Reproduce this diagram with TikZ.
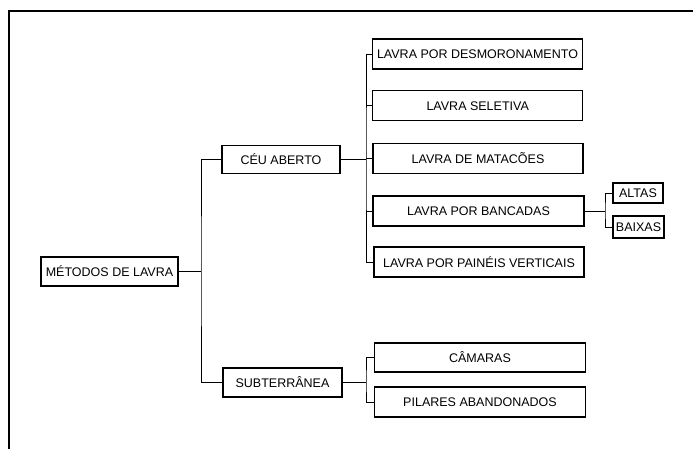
\documentclass[tikz,border=0pt]{standalone}
\usepackage{fontspec}
\setmainfont{Liberation Sans}
\begin{document}
\begin{tikzpicture}[x=1pt,y=-1pt,
  box/.style={draw,line width=1.2pt,inner sep=0pt,font=\fontsize{12.5}{14}\selectfont},
  conn/.style={line width=1pt}]
\useasboundingbox (0,0) rectangle (693,448);
\clip (0,0) rectangle (693,448);
\fill[white] (0,0) rectangle (693,448);
\draw[line width=2pt] (9,470) -- (9,10.5) -- (710,10.5);
% nodes
\node[box,minimum width=137pt,minimum height=29pt] (met) at (109.5,271.5) {MÉTODOS DE LAVRA};
\node[box,minimum width=118pt,minimum height=28pt] (ceu) at (281,159.5) {CÉU ABERTO};
\node[box,minimum width=119pt,minimum height=29pt] (sub) at (282.5,382.5) {SUBTERRÂNEA};
\node[box,minimum width=210pt,minimum height=30pt] (desm) at (477.5,54) {LAVRA POR DESMORONAMENTO};
\node[box,minimum width=210pt,minimum height=30pt] (sel) at (477.7,105.7) {LAVRA SELETIVA};
\node[box,minimum width=210pt,minimum height=30pt] (mat) at (478,158.5) {LAVRA DE MATACÕES};
\node[box,minimum width=211pt,minimum height=30pt] (banc) at (478.5,211) {LAVRA POR BANCADAS};
\node[box,minimum width=210pt,minimum height=30pt] (pain) at (479,262) {LAVRA POR PAINÉIS VERTICAIS};
\node[box,minimum width=50pt,minimum height=20pt] (altas) at (638,193) {ALTAS};
\node[box,minimum width=51pt,minimum height=22pt] (baixas) at (638.5,227) {BAIXAS};
\node[box,minimum width=211pt,minimum height=29pt] (cam) at (480,357.5) {CÂMARAS};
\node[box,minimum width=211pt,minimum height=30pt] (pil) at (480,402) {PILARES ABANDONADOS};
% junctions
\coordinate (t1) at (201,271.5);
\coordinate (t2) at (366,159.5);
\coordinate (t3) at (366,382.5);
\coordinate (t4) at (605,211);
% connectors
\draw[conn] (met.east) -- (t1);
\draw[conn] (ceu.west) -| (t1) |- (sub.west);
\draw[conn] (ceu.east) -- (t2);
\draw[conn] (desm.west) -| (t2) |- (pain.west);
\draw[conn] (sel.west) -- (sel.west -| t2);
\draw[conn] (mat.west) -- (mat.west -| t2);
\draw[conn] (banc.west) -- (banc.west -| t2);
\draw[conn] (sub.east) -- (t3);
\draw[conn] (cam.west) -| (t3) |- (pil.west);
\draw[conn] (banc.east) -- (t4);
\draw[conn] (altas.west) -| (t4) |- (baixas.west);
\end{tikzpicture}
\end{document}
